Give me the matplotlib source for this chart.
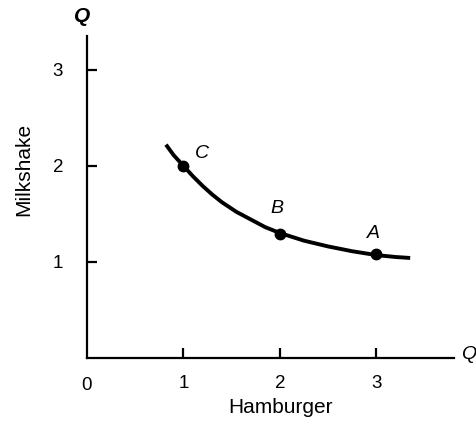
import matplotlib.pyplot as plt

plt.rcParams['font.family'] = ['Liberation Sans', 'DejaVu Sans']

# indifference curve
curve_x = [0.82, 0.9, 1.0, 1.1, 1.2, 1.3, 1.4, 1.55, 1.7, 1.85, 2.0, 2.25, 2.5, 2.75, 3.0, 3.2, 3.35]
curve_y = [2.22, 2.11, 2.0, 1.89, 1.79, 1.70, 1.62, 1.52, 1.44, 1.36, 1.30, 1.22, 1.16, 1.11, 1.07, 1.05, 1.04]

# labelled bundles
point_names = ['C', 'B', 'A']
point_x = [1, 2, 3]
point_y = [2.0, 1.29, 1.08]

ticks = [1, 2, 3]
tick_labels = ['1', '2', '3']

fig = plt.figure(figsize=(4.77, 4.25), dpi=100)
ax = fig.add_axes([0.182, 0.158, 0.769, 0.757])

ax.plot(curve_x, curve_y, color='black', lw=2.8, solid_capstyle='butt')
ax.plot(point_x, point_y, 'o', color='black', ms=7.5)

offsets = {'C': (0.19, 0.13), 'B': (-0.03, 0.26), 'A': (-0.03, 0.22)}
for n, px, py in zip(point_names, point_x, point_y):
    dx, dy = offsets[n]
    ax.text(px + dx, py + dy, n, style='italic', fontsize=14, ha='center', va='center')

ax.set_xlim(0, 3.8)
ax.set_ylim(0, 3.35)
ax.spines['top'].set_visible(False)
ax.spines['right'].set_visible(False)
ax.spines['left'].set_linewidth(1.6)
ax.spines['bottom'].set_linewidth(1.6)

ax.set_xticks(ticks)
ax.set_xticklabels(tick_labels)
ax.set_yticks(ticks)
ax.set_yticklabels(tick_labels)
ax.tick_params(direction='in', length=7, width=1.6, labelsize=13.5)
ax.tick_params(axis='x', pad=12)
ax.tick_params(axis='y', pad=17)

ax.text(0, -0.29, '0', fontsize=13.5, ha='center', va='center')
ax.set_xlabel('Hamburger', fontsize=15)
ax.xaxis.set_label_coords(0.529, -0.125)
ax.set_ylabel('Milkshake', fontsize=15)
ax.yaxis.set_label_coords(-0.145, 0.587)

# axis end labels
ax.text(-0.05, 3.55, 'Q', style='italic', weight='bold', fontsize=15, ha='center', va='center', clip_on=False)
ax.text(3.88, 0.04, 'Q', style='italic', fontsize=14, ha='left', va='center', clip_on=False)

fig.savefig('out.png', dpi=100)
